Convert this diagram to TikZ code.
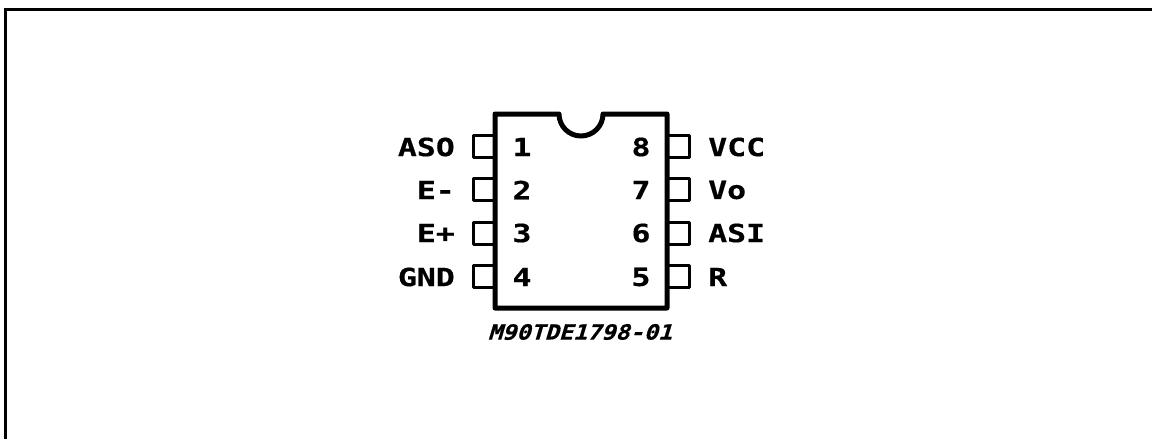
\documentclass[tikz,border=0pt]{standalone}
\usepackage{fontspec}
\setmainfont{DejaVu Sans Mono}
\newfontfamily\pinfont[FakeStretch=1.26,FakeBold=0.5]{DejaVu Sans Mono Bold}
\newfontfamily\codefont[FakeStretch=1.12,FakeSlant=0.3,FakeBold=0.5]{DejaVu Sans Mono Bold}
\tikzset{
  pinbox/.style={draw=black,line width=3pt,line join=round},
  pinlabel/.style={inner sep=0pt,font=\fontsize{25}{25}\pinfont},
}
\begin{document}
\begin{tikzpicture}[x=1pt,y=-1pt]
\useasboundingbox (0,0) rectangle (1152,439);
% outer frame
\draw [black,line width=3pt] (5.5,439) -- (5.5,9.5) -- (1152,9.5);
% pins
\foreach \n/\y in {1/146,2/189,3/233,4/276} {
  \draw [pinbox] (495,\y-11) -- (473.5,\y-11) -- (473.5,\y+11) -- (495,\y+11);
}
\foreach \n/\y in {8/146,7/189,6/233,5/276} {
  \draw [pinbox] (667,\y-11) -- (689,\y-11) -- (689,\y+11) -- (667,\y+11);
}
% package
\draw [black,line width=5pt,line join=round] (495,114) -- (559,114) arc (180:0:22) -- (667,114) -- (667,308) -- (495,308) -- cycle;
% pin numbers
\node [pinlabel] (n1) at (522,147) {1};
\node [pinlabel] (n2) at (522,190) {2};
\node [pinlabel] (n3) at (522,233) {3};
\node [pinlabel] (n4) at (522,277) {4};
\node [pinlabel] (n8) at (641,147) {8};
\node [pinlabel] (n7) at (641,190) {7};
\node [pinlabel] (n6) at (641,233) {6};
\node [pinlabel] (n5) at (641,277) {5};
% pin names
\node [pinlabel,anchor=east] (aso) at (455,147) {ASO};
\node [pinlabel,anchor=east] (em) at (455,190) {E-};
\node [pinlabel,anchor=east] (ep) at (455,233) {E+};
\node [pinlabel,anchor=east] (gnd) at (455,277) {GND};
\node [pinlabel,anchor=west] (vcc) at (708,147) {VCC};
\node [pinlabel,anchor=west] (vo) at (708,190) {Vo};
\node [pinlabel,anchor=west] (asi) at (708,233) {ASI};
\node [pinlabel,anchor=west] (r) at (708,277) {R};
\node [inner sep=0pt,font=\fontsize{21}{21}\codefont] (code) at (580,332) {M90TDE1798-01};
\end{tikzpicture}
\end{document}
